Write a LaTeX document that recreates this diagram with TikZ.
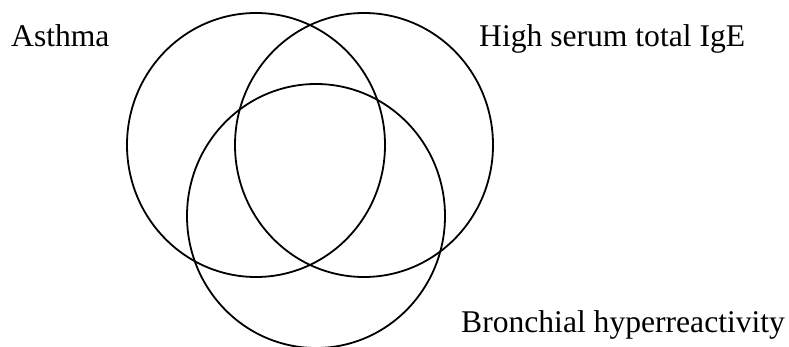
\documentclass[tikz,border=0pt]{standalone}
\usepackage{fontspec}
\setmainfont{Liberation Serif}
\usetikzlibrary{positioning}

\begin{document}
\begin{tikzpicture}[
  x=1pt, y=-1pt,
  every node/.style={font=\fontsize{31.6}{38}\selectfont},
  setline/.style={draw=black, line width=1.8pt},
  setlabel/.style={anchor=base west, inner sep=0pt}
]
  % canvas = reference size in px
  \useasboundingbox (0,0) rectangle (789,347);

  % radii of the three sets
  \def\rx{129}\def\ry{132}

  % Asthma, high IgE, bronchial hyperreactivity
  \draw[setline] (256,145) ellipse ({\rx} and {\ry});
  \draw[setline] (364,145) ellipse ({\rx} and {\ry});
  \draw[setline] (316,216) ellipse ({\rx} and {\ry});

  % Labels
  \node[setlabel] (asthma) at (11,47) {Asthma};
  \node[setlabel] (ige)    at (479,47) {High serum total IgE};
  \node[setlabel] (bhr)    at (461,332) {Bronchial hyperreactivity};
\end{tikzpicture}
\end{document}
